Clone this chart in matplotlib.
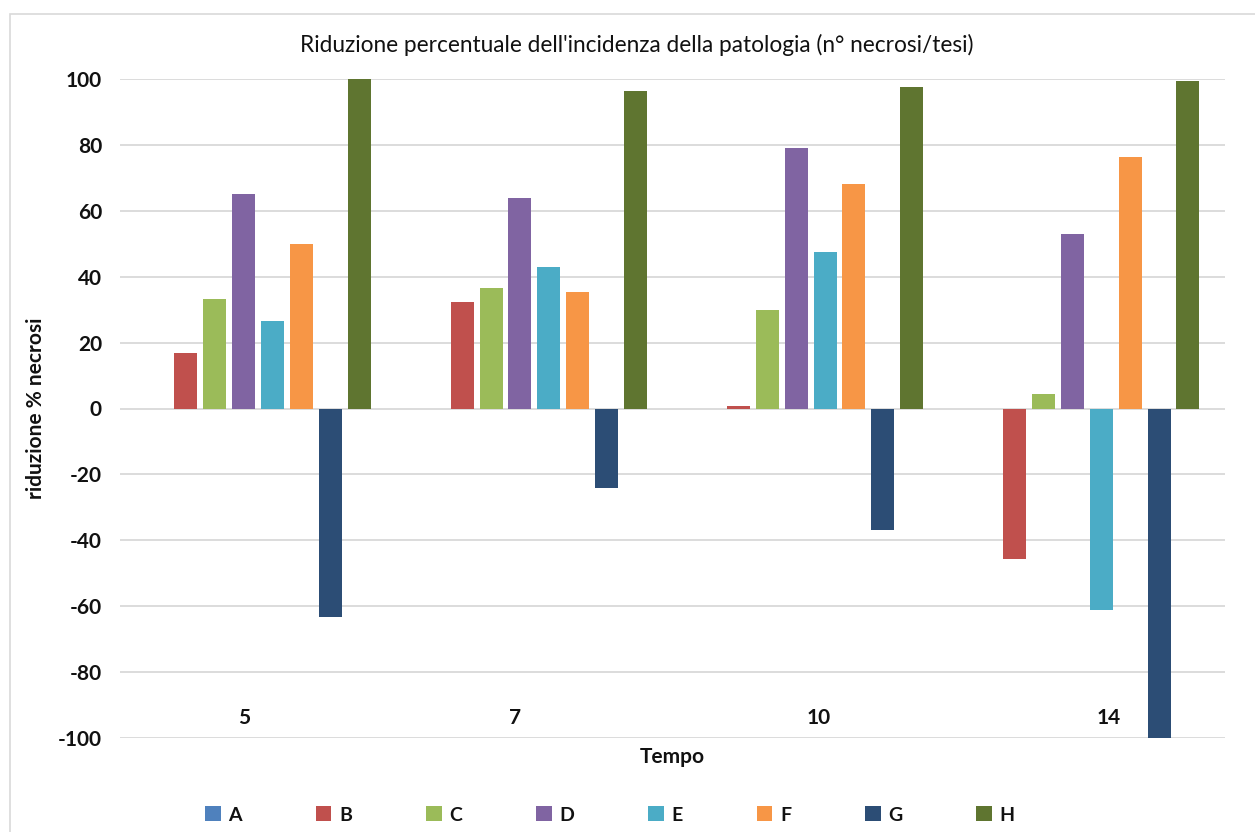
import matplotlib
matplotlib.use("Agg")
import matplotlib.pyplot as plt
from matplotlib.patches import Rectangle, Patch
import numpy as np

plt.rcParams['font.family'] = ['Lato', 'DejaVu Sans']
plt.rcParams['axes.unicode_minus'] = False

tempo = ["5", "7", "10", "14"]
series = ["A", "B", "C", "D", "E", "F", "G", "H"]
A = [0, 0, 0, 0]
B = [16.7, 32.4, 0.7, -45.7]
C = [33.3, 36.5, 30.0, 4.5]
D = [65.0, 64.0, 79.2, 53.0]
E = [26.7, 43.0, 47.5, -61.3]
F = [50.0, 35.3, 68.0, 76.4]
G = [-63.3, -24.0, -37.0, -100.0]
H = [100.0, 96.5, 97.7, 99.3]
values = [A, B, C, D, E, F, G, H]
colors = ["#4F81BD", "#C0504D", "#9BBB59", "#8064A2",
          "#4BACC6", "#F79646", "#2C4D75", "#5F7530"]

TXT = "#111111"
W, Hh = 1255, 832
fig = plt.figure(figsize=(W / 100, Hh / 100), dpi=100)

# light chart-area frame
fig.patches.append(Rectangle((10 / W, -0.01), 1.2, (832 - 14) / Hh + 0.01,
                             transform=fig.transFigure, fill=False,
                             edgecolor="#D9D9D9", linewidth=1.2))

ax = fig.add_axes([120 / W, (Hh - 738) / Hh, (1225 - 120) / W, (738 - 79) / Hh])

x = np.arange(len(tempo))
step = 0.1045
width = 0.083
for i, (name, vals, col) in enumerate(zip(series, values, colors)):
    ax.bar(x + (i - 3.5) * step, vals, width, color=col, label=name,
           linewidth=0, zorder=3)

ax.set_xlim(-0.5, len(tempo) - 0.5)
ax.set_ylim(-100, 100)
ax.set_yticks(np.arange(-100, 101, 20))
ax.yaxis.grid(True, color="#D9D9D9", linewidth=1.3, zorder=0)
ax.set_axisbelow(True)
for s in ax.spines.values():
    s.set_visible(False)
ax.tick_params(axis="y", length=0, pad=13, labelsize=15, labelcolor=TXT)
for lab in ax.get_yticklabels():
    lab.set_fontweight("bold")
ax.set_xticks([])

# category labels sit at the bottom of the plot area
label_shift = [-0.05, -0.07, 0.03, 0.08]
for xi, t, sh in zip(x, tempo, label_shift):
    ax.text(xi + sh, -97, t, ha="center", va="bottom", fontsize=15,
            fontweight="bold", color=TXT)

fig.text(672 / W, 1 - 757 / Hh, "Tempo", ha="center", va="center",
         fontsize=15, fontweight="bold", color=TXT)
fig.text(36 / W, 1 - 408 / Hh, "riduzione % necrosi", ha="center", va="center",
         rotation=90, fontsize=15, fontweight="bold", color=TXT)
fig.text(637 / W, 1 - 45 / Hh,
         "Riduzione percentuale dell'incidenza della patologia (n° necrosi/tesi)",
         ha="center", va="center", fontsize=16.3, color=TXT)

handles = [Patch(facecolor=c, edgecolor="none", label=s) for s, c in zip(series, colors)]
leg = fig.legend(handles=handles, loc="center", bbox_to_anchor=(610 / W, 1 - 815 / Hh),
                 ncol=8, frameon=False, handlelength=0.8, handleheight=0.8,
                 handletextpad=0.4, columnspacing=3.8,
                 prop={"weight": "bold", "size": 14})
for t in leg.get_texts():
    t.set_color(TXT)

fig.savefig("out.png", dpi=100)
